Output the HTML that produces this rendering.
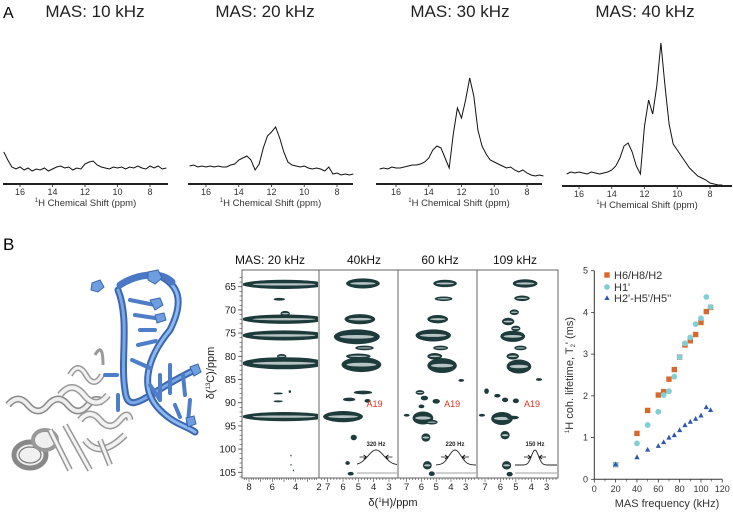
<!DOCTYPE html>
<html><head><meta charset="utf-8">
<style>
html,body{margin:0;padding:0;background:#fff;}
svg{display:block;font-family:"Liberation Sans",Arial,sans-serif;}
</style></head>
<body>
<svg id="fig" width="733" height="515" viewBox="0 0 733 515">
  <text x="3" y="18" font-size="16">A</text>
  <text x="3" y="250" font-size="17">B</text>
  <g id="panelA"></g>
  <g id="mol">
    <g fill="#f0f0f0" stroke="#777" stroke-width="1.2">
      <path d="M8,405 q10,-12 20,0 q10,12 20,0 q10,-12 20,0 q10,12 20,0 q8,-10 16,-2" fill="none" stroke="#888" stroke-width="7"/>
      <path d="M8,405 q10,-12 20,0 q10,12 20,0 q10,-12 20,0 q10,12 20,0 q8,-10 16,-2" fill="none" stroke="#eee" stroke-width="4"/>
      <ellipse cx="30" cy="455" rx="16" ry="13" stroke-width="5" stroke="#888"/>
      <ellipse cx="30" cy="455" rx="11" ry="8"/>
      <ellipse cx="45" cy="440" rx="12" ry="10" stroke-width="4" stroke="#999"/>
      <path d="M60,395 q12,-15 24,0 q12,15 24,0" fill="none" stroke="#999" stroke-width="7"/>
      <path d="M60,395 q12,-15 24,0 q12,15 24,0" fill="none" stroke="#f2f2f2" stroke-width="4"/>
      <path d="M70,375 q8,-14 16,0 q8,14 16,0" fill="none" stroke="#999" stroke-width="6"/>
      <path d="M70,375 q8,-14 16,0 q8,14 16,0" fill="none" stroke="#f2f2f2" stroke-width="3"/>
      <path d="M80,420 q10,-12 20,0 q10,12 20,0 q8,-10 10,0 M85,440 q15,20 40,-5" fill="none" stroke="#999" stroke-width="7"/>
      <path d="M80,420 q10,-12 20,0 q10,12 20,0 q8,-10 10,0 M85,440 q15,20 40,-5" fill="none" stroke="#f2f2f2" stroke-width="4"/>
      <path d="M50,430 l20,40 M65,425 l25,45 M100,440 l10,25" fill="none" stroke="#999" stroke-width="6"/>
      <path d="M50,430 l20,40 M65,425 l25,45 M100,440 l10,25" fill="none" stroke="#f4f4f4" stroke-width="3"/>
      <path d="M95,355 q8,-14 8,10" fill="none" stroke="#999" stroke-width="3"/>
    </g>
    <g fill="none" stroke-linecap="round">
      <path d="M118,290 C130,320 120,360 125,390 C128,420 150,390 195,370" stroke="#3c67b0" stroke-width="7"/>
      <path d="M118,290 C130,320 120,360 125,390 C128,420 150,390 195,370" stroke="#7aa8e6" stroke-width="3"/>
      <path d="M160,276 C178,285 185,300 170,330 C145,360 140,390 160,410 C175,425 185,425 195,432" stroke="#3c67b0" stroke-width="7"/>
      <path d="M160,276 C178,285 185,300 170,330 C145,360 140,390 160,410 C175,425 185,425 195,432" stroke="#8ab8f0" stroke-width="3"/>
      <path d="M120,285 C135,275 160,270 172,282" stroke="#4a78c4" stroke-width="7"/>
      <g stroke="#4f7ec8" stroke-width="4">
        <path d="M130,300 l25,5 M135,315 l20,3 M140,330 l15,0 M138,345 l18,-4 M132,360 l18,8 M150,385 l10,15 M160,375 l0,25 M170,365 l0,28 M183,375 l2,20 M175,405 l5,12 M190,400 l-2,22 M105,375 l12,0 M118,395 l0,15"/>
      </g>
      <g fill="#6f9ee0" stroke="#3c67b0" stroke-width="1">
        <polygon points="92,283 100,280 104,287 98,292 91,290"/>
        <polygon points="148,272 158,270 162,278 155,284 148,280"/>
        <polygon points="150,300 160,298 163,305 155,310"/>
        <polygon points="155,315 164,313 166,320 157,323"/>
        <polygon points="190,367 198,364 201,372 194,376"/>
        <polygon points="186,418 194,416 196,424 188,427"/>
      </g>
    </g>
  </g>
  <g id="nmr2d"></g>
  <g id="scatter"></g>
</svg>
<script>
const specTitles = ["MAS: 10 kHz","MAS: 20 kHz","MAS: 30 kHz","MAS: 40 kHz"];
const specPpm = [17,16.75,16.5,16.25,16,15.75,15.5,15.25,15,14.75,14.5,14.25,14,13.75,13.5,13.25,13,12.75,12.5,12.25,12,11.75,11.5,11.25,11,10.75,10.5,10.25,10,9.75,9.5,9.25,9,8.75,8.5,8.25,8,7.75,7.5,7.25,7];
const spec10 = [32,24,17,15,17,14,16,13,15,14,16,13,15,17,18,16,17,14,16,15,20,22,23,19,17,16,15,17,16,17,15,17,16,18,16,15,18,16,18,15,16];
const spec20 = [18,19,17,18,17,18,17,18,17,17,19,20,24,26,28,24,14,20,36,48,52,57,46,32,22,19,18,17,18,16,15,16,15,13,17,10,11,9,10,9,10];
const spec30 = [15,16,15,17,16,16,17,18,19,19,20,22,26,34,38,36,26,16,50,76,66,84,106,88,54,38,30,24,22,20,18,16,17,14,12,14,11,9,8,9,8];
const spec40 = [null,12,14,13,14,13,12,14,13,12,13,14,16,20,28,40,43,34,20,12,60,86,72,100,143,100,62,42,36,30,24,18,14,10,8,6,3,2,1,1,null];
const specSeries = [spec10,spec20,spec30,spec40];
const tickPpm = [16,14,12,10,8];

const NS="http://www.w3.org/2000/svg";
function mk(tag,attrs,parent,text){const e=document.createElementNS(NS,tag);for(const k in attrs)e.setAttribute(k,attrs[k]);if(text!==undefined)e.textContent=text;parent.appendChild(e);return e;}

const specGeom=[
 {x0:3,x1:168,axisY:184,p16:20,p8:150,titleX:95},
 {x0:188,x1:353,axisY:184,p16:206,p8:337,titleX:265},
 {x0:376,x1:542,axisY:184,p16:396,p8:527,titleX:460},
 {x0:562,x1:732,axisY:186,p16:579,p8:710,titleX:645}
];
const pA=document.getElementById('panelA');
specGeom.forEach((g,i)=>{
  const xs=p=>g.p8+(p-8)*(g.p16-g.p8)/8;
  const grp=mk('g',{},pA);
  
  
  const t=mk('text',{x:g.titleX,y:17,'font-size':17,'text-anchor':'middle',fill:'#222'},grp,specTitles[i]);
  
  
  const ax=mk('line',{x1:g.x0,x2:g.x1,y1:g.axisY,y2:g.axisY,stroke:'#222','stroke-width':2},grp);
  
  
  tickPpm.forEach(p=>{
    mk('line',{x1:xs(p),x2:xs(p),y1:g.axisY,y2:g.axisY+3,stroke:'#222','stroke-width':0.8},grp);
    const tl=mk('text',{x:xs(p),y:g.axisY+11,'font-size':9,'text-anchor':'middle',fill:'#333'},grp,String(p));
    
    
  });
  const lab=mk('text',{x:(g.x0+g.x1)/2,y:g.axisY+22,'font-size':9.5,'text-anchor':'middle',fill:'#333'},grp);
  
  
  mk('tspan',{'font-size':6,dy:-4},lab,'1');
  mk('tspan',{dy:4},lab,'H  Chemical Shift (ppm)');
  let d='';
  specSeries[i].forEach((v,j)=>{ if(v===null)return; const x=xs(specPpm[j]), y=g.axisY-v; d+=(d?'L':'M')+x.toFixed(1)+','+y.toFixed(1);});
  const pl=mk('path',{d:d,fill:'none',stroke:'#111','stroke-width':1},grp);
  
  
});

const panelTitles=["MAS: 20 kHz","40kHz","60 kHz","109 kHz"];
const cTicks=[65,70,75,80,85,90,95,100,105];
const hTicks1=[8,6,4,2];
const hTicks2=[7,6,5,4,3];
const blobs1=[[5,64.5,3.6,1.0],[5,72,3.6,1.0],[5,75.5,3.6,1.1],[5,81.5,3.6,1.3],[5,93,3.6,1.0],[5.4,67.7,0.5,0.3],[4.9,70.8,0.4,0.6],[5.2,80,0.4,0.5],[5.5,88,0.4,0.2],[5.5,89.7,0.4,0.2],[4.5,87.6,0.1,0.3],[4.4,101.4,0.05,0.2],[4.4,103.4,0.05,0.2],[4.2,104.6,0.05,0.2]];
const blobs2=[[4.7,64.3,1.1,1.1],[4.9,72,1.0,1.1],[5.1,75.8,1.5,1.6],[4.6,78.2,0.6,0.5],[5.0,80,0.8,0.6],[4.8,81.8,1.3,1.6],[4.7,87.8,0.6,0.4],[5.6,89.3,0.4,0.4],[4.4,89.6,0.2,0.4],[6.0,93,1.3,1.2],[5.3,97.5,0.2,0.6],[5.7,103,0.15,0.4],[5.5,105.3,0.2,0.4]];
const blobs3=[[4.4,64.3,0.8,0.8],[4.5,67.6,0.6,0.5],[4.9,72,0.7,0.9],[5.2,75.5,1.2,1.3],[4.7,78.2,0.5,0.5],[5.1,80,0.5,0.7],[4.6,82,1.0,1.6],[3.3,85.2,0.2,0.3],[6.1,87.8,0.3,0.5],[5.8,89,0.25,0.5],[5.0,89.7,0.25,0.5],[6.0,90.8,0.2,0.4],[7.0,92.7,0.2,0.3],[5.9,93.3,0.7,1.4],[5.3,94.2,0.4,0.5],[5.7,97.5,0.3,0.9],[5.6,103.5,0.3,0.9],[5.3,105.3,0.2,0.5]];
const blobs4=[[4.4,64.3,0.8,0.9],[4.6,67.5,0.5,0.6],[5.1,70.5,0.3,0.6],[5.5,72.5,0.4,0.8],[5.0,74,0.3,0.6],[5.2,75.7,0.8,1.2],[4.7,78.2,0.4,0.5],[5.2,80,0.4,0.7],[4.8,82.2,0.8,1.5],[3.5,85,0.2,0.3],[6.9,87.5,0.15,0.6],[6.2,88.5,0.2,0.4],[5.7,89.4,0.2,0.5],[5.0,89.6,0.2,0.5],[7.2,92.7,0.2,0.3],[5.9,93.4,0.7,1.4],[5.2,93.2,0.4,0.4],[5.7,97,0.3,0.9],[5.6,103.5,0.3,0.9],[5.4,105.4,0.2,0.5]];
const blobSets=[blobs1,blobs2,blobs3,blobs4];
const insetLabels=["","320 Hz","220 Hz","150 Hz"];
const insetWidth=[0,8,6,3.5];

const nm=document.getElementById('nmr2d');
const plotTop=270,plotBot=478;
const ysC=c=>286.7+(c-65)*(472.3-286.7)/40;
const panels=[
 {x0:242,x1:319,h1:8,xh1:249,h2:2,xh2:319,titleX:270},
 {x0:319,x1:398,h1:7,xh1:327.7,h2:3,xh2:389,titleX:364},
 {x0:398,x1:477,h1:7,xh1:406.7,h2:3,xh2:465.7,titleX:440},
 {x0:477,x1:558,h1:7,xh1:485,h2:3,xh2:546.7,titleX:515}
];
mk('rect',{x:242,y:plotTop,width:316,height:plotBot-plotTop,fill:'none',stroke:'#666','stroke-width':1},nm);
panels.forEach((p,i)=>{
  const xs=h=>p.xh1+(h-p.h1)*(p.xh2-p.xh1)/(p.h2-p.h1);
  const g=mk('g',{},nm);
  
  
  if(i>0) mk('line',{x1:p.x0,x2:p.x0,y1:plotTop,y2:plotBot,stroke:'#666','stroke-width':1},g);
  const t=mk('text',{x:p.titleX,y:264,'font-size':12,'text-anchor':'middle',fill:'#111'},g,panelTitles[i]);
  
  
  const clip='clip'+i;
  const cp=mk('clipPath',{id:clip},g); mk('rect',{x:p.x0+1,y:plotTop,width:p.x1-p.x0-2,height:plotBot-plotTop},cp);
  const bg=mk('g',{'clip-path':'url(#'+clip+')'},g);
  blobSets[i].forEach(b=>{
    const cx=xs(b[0]),cy=ysC(b[1]),rx=Math.abs(xs(b[0]+b[2])-cx),ry=Math.abs(ysC(b[1]+b[3])-cy);
    const e=mk('ellipse',{cx:cx,cy:cy,rx:rx,ry:ry,fill:'#1e3b3c'},bg);
    
    
    if(rx>4&&ry>2) mk('ellipse',{cx:cx,cy:cy,rx:rx*0.75,ry:Math.max(ry*0.25,0.6),fill:'#b8c4c4'},bg);
  });
  const hs=i==0?hTicks1:hTicks2;
  for(let h=Math.ceil(Math.min(p.h1,p.h2)*5)/5-1; h<=Math.max(p.h1,p.h2)+0.6; h+=0.2){
    const x=xs(h); if(x<p.x0+1||x>p.x1-1)continue;
    const major=Math.abs(h-Math.round(h))<0.01;
    mk('line',{x1:x,x2:x,y1:plotBot,y2:plotBot+(major?4:2),stroke:'#444','stroke-width':0.6},g);
  }
  hs.forEach(h=>{
    const tl=mk('text',{x:xs(h),y:490,'font-size':9.5,'text-anchor':'middle',fill:'#222'},g,String(h));
    
    
  });
  if(i>0){
    const a=mk('text',{x:xs(4.6)+2,y:407,'font-size':9,fill:'#e0321e'},g,'A19');
    
    
    const ix0=p.x0+38,ix1=p.x1-1,ib=465,ipk=450,cx=(ix0+ix1)/2-1,w=insetWidth[i];
    let d='';
    for(let x=ix0;x<=ix1;x+=1){const y=ib-(ib-ipk)*Math.exp(-Math.pow((x-cx)/w,2)/2); d+=(d?'L':'M')+x+','+y.toFixed(1);}
    const ins=mk('path',{d:d,fill:'none',stroke:'#222','stroke-width':0.9},g);
    
    
    mk('line',{x1:ix0,x2:ix1,y1:473,y2:473,stroke:'#444','stroke-width':0.6},g);
    const hw=w*1.18;
    mk('path',{d:`M${cx-hw-7},457 L${cx-hw},457 M${cx-hw-3},455 L${cx-hw},457 L${cx-hw-3},459 M${cx+hw+7},457 L${cx+hw},457 M${cx+hw+3},455 L${cx+hw},457 L${cx+hw+3},459`,stroke:'#111','stroke-width':0.8,fill:'none'},g);
    const il=mk('text',{x:cx,y:446,'font-size':6,'font-weight':'bold','text-anchor':'middle',fill:'#222'},g,insetLabels[i]);
    
    
  }
});
for(let c=63;c<=106;c+=1){ mk('line',{x1:242,x2:239.5,y1:ysC(c),y2:ysC(c),stroke:'#444','stroke-width':0.6},nm);}
cTicks.forEach(c=>{
  mk('line',{x1:242,x2:238,y1:ysC(c),y2:ysC(c),stroke:'#444','stroke-width':0.8},nm);
  const tl=mk('text',{x:236,y:ysC(c)+3.5,'font-size':10,'text-anchor':'end',fill:'#222'},nm,String(c));
  
  
});
const yt=mk('text',{x:0,y:0,'font-size':11,'text-anchor':'middle',fill:'#222',transform:'translate(214,373) rotate(-90)'},nm);


mk('tspan',{},yt,'δ(');mk('tspan',{'font-size':6,dy:-4},yt,'13');mk('tspan',{dy:4},yt,'C)/ppm');
const xt=mk('text',{x:393,y:506,'font-size':11,'text-anchor':'middle',fill:'#222'},nm);


mk('tspan',{},xt,'δ(');mk('tspan',{'font-size':6,dy:-4},xt,'1');mk('tspan',{dy:4},xt,'H)/ppm');

const masH6=[20,40,50,60,65,70,75,80,85,90,95,100,105,109];
const t2H6=[0.35,1.1,1.65,2.02,2.1,2.4,2.63,2.93,3.22,3.32,3.47,3.76,4.02,4.12];
const masH1=[20,40,50,60,65,70,75,80,85,90,95,100,105,109];
const t2H1=[0.35,0.86,1.3,1.62,2.02,2.11,2.46,2.93,3.26,3.4,3.72,3.86,4.37,4.13];
const masH2=[20,40,50,60,65,70,75,80,85,90,95,100,105,109];
const t2H2=[0.36,0.53,0.71,0.8,0.89,1.0,1.06,1.18,1.3,1.38,1.45,1.53,1.73,1.66];
const xTicks=[0,20,40,60,80,100,120];
const yTicks=[0,1,2,3,4,5];
const legendLabels=["H6/H8/H2","H1'","H2'-H5'/H5''"];

const sc=document.getElementById('scatter');
const sxF=v=>594.3+v*(722.3-594.3)/120;
const syF=v=>479.3-v*(479.3-270.7)/5;
mk('line',{x1:594.3,x2:594.3,y1:270.7,y2:479.3,stroke:'#333','stroke-width':1},sc);
mk('line',{x1:594.3,x2:722.3,y1:479.3,y2:479.3,stroke:'#333','stroke-width':1},sc);
xTicks.forEach(v=>{
  mk('line',{x1:sxF(v),x2:sxF(v),y1:479.3,y2:482.5,stroke:'#333','stroke-width':0.8},sc);
  const tl=mk('text',{x:sxF(v),y:492,'font-size':9,'text-anchor':'middle',fill:'#333'},sc,String(v));
  
  
});
for(let v=10;v<120;v+=20) mk('line',{x1:sxF(v),x2:sxF(v),y1:479.3,y2:481.5,stroke:'#333','stroke-width':0.6},sc);
yTicks.forEach(v=>{
  mk('line',{x1:591,x2:594.3,y1:syF(v),y2:syF(v),stroke:'#333','stroke-width':0.8},sc);
  const tl=mk('text',{x:588,y:syF(v)+3,'font-size':9,'text-anchor':'end',fill:'#333'},sc,String(v));
  
  
});
const sxt=mk('text',{x:667,y:507,'font-size':11,'text-anchor':'middle',fill:'#333'},sc,'MAS frequency (kHz)');


const syt=mk('text',{'font-size':11,'text-anchor':'middle',fill:'#333',transform:'translate(573,375) rotate(-90)'},sc);


mk('tspan',{'font-size':6,dy:-4},syt,'1');mk('tspan',{dy:4},syt,'H coh. lifetime, T');mk('tspan',{'font-size':6,dy:2},syt,'2');mk('tspan',{dy:-2},syt,"' (ms)");
function sq(x,y,c,parent){return mk('rect',{x:x-2.7,y:y-2.7,width:5.4,height:5.4,fill:c},parent);}
function ci(x,y,c,parent){return mk('circle',{cx:x,cy:y,r:2.9,fill:c},parent);}
function tr(x,y,c,parent){return mk('polygon',{points:`${x},${y-2.8} ${x+2.6},${y+2} ${x-2.6},${y+2}`,fill:c},parent);}
const gH6=mk('g',{},sc);
masH6.forEach((m,i)=>{const e=sq(sxF(m),syF(t2H6[i]),'#d9692a',gH6);});
const gH1=mk('g',{},sc);
masH1.forEach((m,i)=>{const e=ci(sxF(m),syF(t2H1[i]),'#80cfd6',gH1);});
const gH2=mk('g',{},sc);
masH2.forEach((m,i)=>{const e=tr(sxF(m),syF(t2H2[i]),'#2f56b0',gH2);});
const lg=mk('g',{},sc);
const lys=[275,287,298];
sq(607,lys[0],'#d9692a',lg);ci(607,lys[1],'#80cfd6',lg);tr(607,lys[2],'#2f56b0',lg);
legendLabels.forEach((l,i)=>{const t=mk('text',{x:614,y:lys[i]+4,'font-size':11,fill:'#333'},lg,l);});
</script>
</body></html>
